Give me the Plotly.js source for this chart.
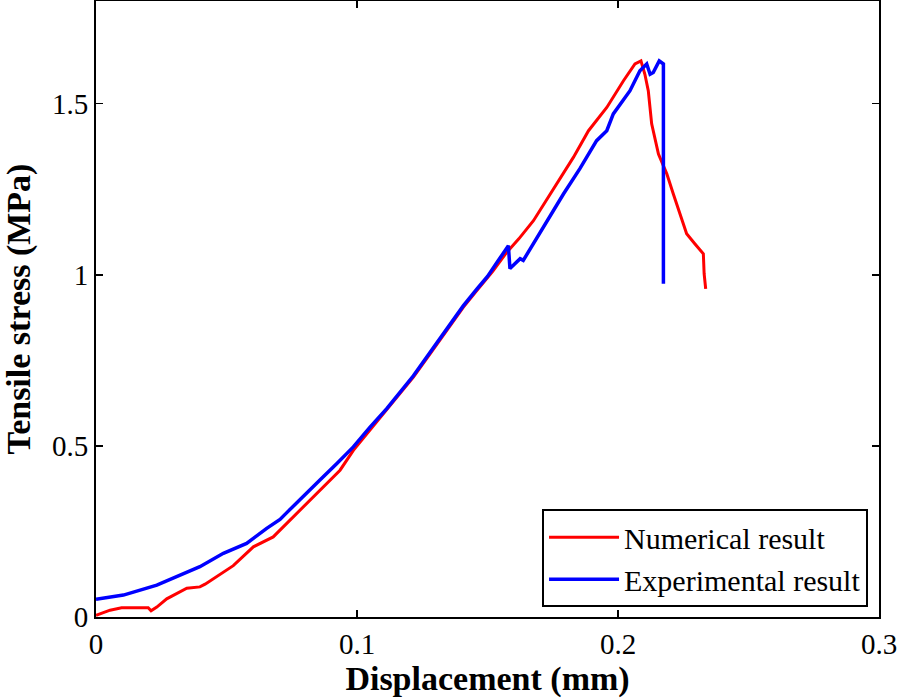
<!DOCTYPE html>
<html>
<head>
<meta charset="utf-8">
<script src="https://cdn.plot.ly/plotly-3.0.1.min.js"></script>
<style>html,body{margin:0;padding:0;background:#fff;}#chart{width:898px;height:699px;}</style>
</head>
<body>
<div id="chart"></div>
<script>
// Numerical result (red)
const numDisp = [0, 0.0054, 0.0098, 0.0200, 0.0211, 0.0233, 0.0271, 0.0348, 0.0398, 0.0418, 0.0526, 0.0603, 0.0679, 0.0743, 0.0820, 0.0884, 0.0935, 0.0986, 0.1050, 0.1114, 0.1216, 0.1280, 0.1344, 0.1407, 0.1459, 0.1520, 0.1573, 0.1620, 0.1676, 0.1765, 0.1829, 0.1887, 0.1957, 0.2021, 0.2065, 0.2088, 0.2103, 0.2116, 0.2129, 0.2155, 0.2187, 0.2212, 0.2238, 0.2263, 0.2295, 0.2327, 0.2330, 0.2336];
const numStress = [0.005, 0.020, 0.027, 0.027, 0.018, 0.029, 0.053, 0.084, 0.088, 0.096, 0.150, 0.205, 0.234, 0.283, 0.341, 0.390, 0.429, 0.487, 0.546, 0.604, 0.701, 0.769, 0.837, 0.905, 0.954, 1.010, 1.065, 1.105, 1.158, 1.265, 1.343, 1.421, 1.489, 1.567, 1.616, 1.625, 1.586, 1.538, 1.441, 1.353, 1.295, 1.236, 1.178, 1.120, 1.090, 1.061, 1.003, 0.959];
// Experimental result (blue)
const expDisp = [0, 0.0105, 0.0233, 0.0309, 0.0398, 0.0488, 0.0577, 0.0654, 0.0705, 0.0731, 0.0794, 0.0858, 0.0922, 0.0986, 0.1050, 0.1114, 0.1216, 0.1280, 0.1344, 0.1407, 0.1459, 0.1500, 0.1540, 0.1580, 0.1586, 0.1625, 0.1637, 0.1714, 0.1727, 0.1791, 0.1854, 0.1918, 0.1957, 0.1982, 0.2046, 0.2084, 0.2110, 0.2123, 0.2135, 0.2158, 0.2174, 0.2174];
const expStress = [0.052, 0.064, 0.093, 0.118, 0.147, 0.186, 0.215, 0.259, 0.285, 0.305, 0.351, 0.400, 0.448, 0.497, 0.555, 0.609, 0.705, 0.773, 0.841, 0.909, 0.958, 0.995, 1.040, 1.085, 1.018, 1.047, 1.042, 1.139, 1.158, 1.236, 1.310, 1.392, 1.421, 1.470, 1.538, 1.596, 1.616, 1.586, 1.591, 1.625, 1.616, 0.974];

const xTickVals = [0, 0.1, 0.2, 0.3];
const xTickText = ["0", "0.1", "0.2", "0.3"];
const yTickVals = [0, 0.5, 1, 1.5];
const yTickText = ["0", "0.5", "1", "1.5"];

const serif = "Liberation Serif, Times New Roman, serif";

const traces = [
  {x: numDisp, y: numStress, mode: "lines", name: "Numerical result",
   line: {color: "#ff0000", width: 3}},
  {x: expDisp, y: expStress, mode: "lines", name: "Experimental result",
   line: {color: "#0000ff", width: 3.5}}
];

const axisCommon = {
  showline: true, linecolor: "#000", linewidth: 2, mirror: "ticks",
  ticks: "inside", ticklen: 7, tickwidth: 1.5, tickcolor: "#000",
  showgrid: false, zeroline: false,
  tickfont: {family: serif, size: 29, color: "#000"}
};

const layout = {
  width: 898, height: 699,
  margin: {l: 96, r: 19, t: 1, b: 82},
  paper_bgcolor: "#fff", plot_bgcolor: "#fff",
  showlegend: true,
  xaxis: Object.assign({}, axisCommon, {
    range: [0, 0.3], tickmode: "array", tickvals: xTickVals, ticktext: xTickText,
    title: {text: "<b>Displacement (mm)</b>", font: {family: serif, size: 34, color: "#000"}, standoff: 0}
  }),
  yaxis: Object.assign({}, axisCommon, {
    range: [0, 1.8], tickmode: "array", tickvals: yTickVals, ticktext: yTickText,
    title: {text: "<b>Tensile stress (MPa)</b>", font: {family: serif, size: 34, color: "#000"}, standoff: 14}
  }),
  legend: {
    x: 0.986, y: 0.016, xanchor: "right", yanchor: "bottom",
    bgcolor: "#fff", bordercolor: "#000", borderwidth: 2,
    itemwidth: 70, tracegroupgap: 0,
    font: {family: serif, size: 30, color: "#000"}
  }
};

Plotly.newPlot("chart", traces, layout, {displayModeBar: false, staticPlot: true});
</script>
</body>
</html>
